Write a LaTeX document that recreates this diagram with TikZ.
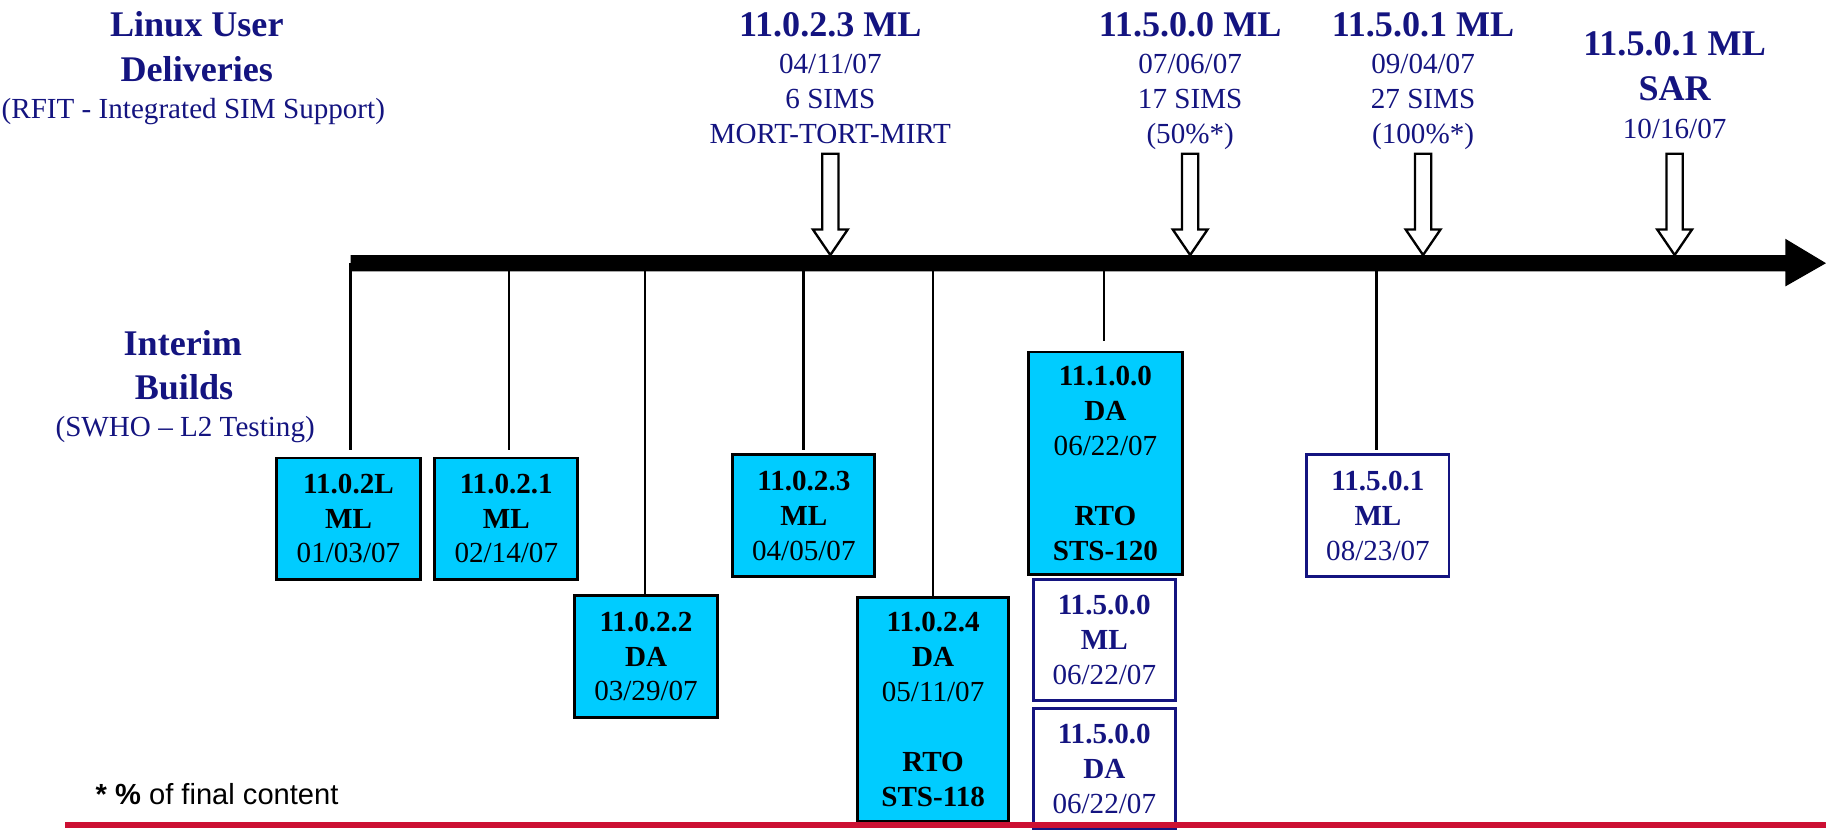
\documentclass[tikz,border=0pt]{standalone}
\usepackage{fontspec}
\setmainfont{Liberation Serif}
\newfontfamily\arialfont{Liberation Sans}
\definecolor{navy}{RGB}{20,20,128}
\definecolor{cyanfill}{RGB}{0,204,255}
\definecolor{redline}{RGB}{204,16,51}
\tikzset{
  headbig/.style={anchor=base, text=navy, font=\bfseries\fontsize{31}{31}\selectfont, inner sep=0pt},
  headsmall/.style={anchor=base, text=navy, font=\fontsize{25}{25}\selectfont, inner sep=0pt},
  cbox/.style={draw=black, line width=2.5pt, fill=cyanfill, text=black, align=center, anchor=north west, inner sep=0pt, font=\fontsize{25}{30}\selectfont},
  wbox/.style={draw=navy, line width=2.5pt, fill=white, text=navy, align=center, anchor=north west, inner sep=0pt, font=\fontsize{25}{30}\selectfont},
  tick/.style={line width=2.2pt, draw=black},
  hollow/.style={draw=black, line width=2pt, fill=white, line join=miter},
  timeline/.style={fill=black},
  footline/.style={draw=redline, line width=4.5pt},
}
\begin{document}
\begin{tikzpicture}[x=1pt,y=-1pt]
\useasboundingbox (0,0) rectangle (1568,712);

% left labels
\node[headbig] (lu1) at (169,31.5) {Linux User};
\node[headbig] (lu2) at (169,70) {Deliveries};
\node[headsmall] (lu3) at (166,102) {(RFIT - Integrated SIM Support)};
\node[headbig] (ib1) at (157,305) {Interim};
\node[headbig] (ib2) at (158,343) {Builds};
\node[headsmall] (ib3) at (159,375) {(SWHO – L2 Testing)};

% deliveries headings
\node[headbig] (a1) at (713,31) {11.0.2.3 ML};
\node[headsmall] (a2) at (713,63.5) {04/11/07};
\node[headsmall] (a3) at (713,93.5) {6 SIMS};
\node[headsmall] (a4) at (713,123.5) {MORT-TORT-MIRT};

\node[headbig] (b1h) at (1022,31) {11.5.0.0 ML};
\node[headsmall] (b2h) at (1022,63.5) {07/06/07};
\node[headsmall] (b3h) at (1022,93.5) {17 SIMS};
\node[headsmall] (b4h) at (1022,123.5) {(50\%*)};

\node[headbig] (c1h) at (1222,31) {11.5.0.1 ML};
\node[headsmall] (c2h) at (1222,63.5) {09/04/07};
\node[headsmall] (c3h) at (1222,93.5) {27 SIMS};
\node[headsmall] (c4h) at (1222,123.5) {(100\%*)};

\node[headbig] (d1h) at (1438,48) {11.5.0.1 ML};
\node[headbig] (d2h) at (1438,86.5) {SAR};
\node[headsmall] (d3h) at (1438,118.5) {10/16/07};

% timeline
\fill[timeline] (301,219) -- (1533,219) -- (1533,205) -- (1568,226) -- (1533,246) -- (1533,233) -- (301,233) -- cycle;

% hollow arrows
\foreach \x in {713,1022,1222,1438}{
  \draw[hollow] (\x-7,132) -- (\x+7,132) -- (\x+7,197) -- (\x+15,197) -- (\x,219) -- (\x-15,197) -- (\x-7,197) -- cycle;
}

% boxes
\node[cbox, minimum width=124pt, minimum height=104pt] (n1) at (236,392) {\textbf{11.0.2L}\\\textbf{ML}\\01/03/07};
\node[cbox, minimum width=123pt, minimum height=104pt] (n2) at (372,392) {\textbf{11.0.2.1}\\\textbf{ML}\\02/14/07};
\node[cbox, minimum width=123pt, minimum height=105pt] (n3) at (492,510) {\textbf{11.0.2.2}\\\textbf{DA}\\03/29/07};
\node[cbox, minimum width=122pt, minimum height=105pt] (n4) at (628,389) {\textbf{11.0.2.3}\\\textbf{ML}\\04/05/07};
\node[cbox, minimum width=130pt, minimum height=192pt] (n5) at (735,512) {\textbf{11.0.2.4}\\\textbf{DA}\\05/11/07\\[30pt]\textbf{RTO}\\\textbf{STS-118}};
\node[cbox, minimum width=132pt, minimum height=191pt] (n6) at (882,301) {\textbf{11.1.0.0}\\\textbf{DA}\\06/22/07\\[30pt]\textbf{RTO}\\\textbf{STS-120}};
\node[wbox, minimum width=122pt, minimum height=104pt] (n7) at (886,496) {\textbf{11.5.0.0}\\\textbf{ML}\\06/22/07};
\node[wbox, minimum width=122pt, minimum height=104pt] (n8) at (886,607) {\textbf{11.5.0.0}\\\textbf{DA}\\06/22/07};
\node[wbox, minimum width=122pt, minimum height=105pt] (n9) at (1121,389) {\textbf{11.5.0.1}\\\textbf{ML}\\08/23/07};

% ticks
\coordinate (t1) at (301,226); \coordinate (e1) at (301,386);
\coordinate (t2) at (437,226); \coordinate (e2) at (437,386);
\coordinate (t3) at (554,226);
\coordinate (t4) at (690,226); \coordinate (e4) at (690,386);
\coordinate (t5) at (801,226);
\coordinate (t6) at (948,226); \coordinate (e6) at (948,293);
\coordinate (t7) at (1182,226); \coordinate (e7) at (1182,386);
\draw[tick] (t1) -- (e1);
\draw[tick] (t2) -- (e2);
\draw[tick] (t3) -- (t3 |- n3.north);
\draw[tick] (t4) -- (e4);
\draw[tick] (t5) -- (t5 |- n5.north);
\draw[tick] (t6) -- (e6);
\draw[tick] (t7) -- (e7);

% footnote and rule
\node[anchor=base west, inner sep=0pt, font=\arialfont\fontsize{25}{25}\selectfont] (fn) at (82,690.5) {\textbf{*} \textbf{\%} of final content};
\coordinate (r1) at (56,708.5); \coordinate (r2) at (1568,708.5);
\draw[footline] (r1) -- (r2);
\end{tikzpicture}
\end{document}
